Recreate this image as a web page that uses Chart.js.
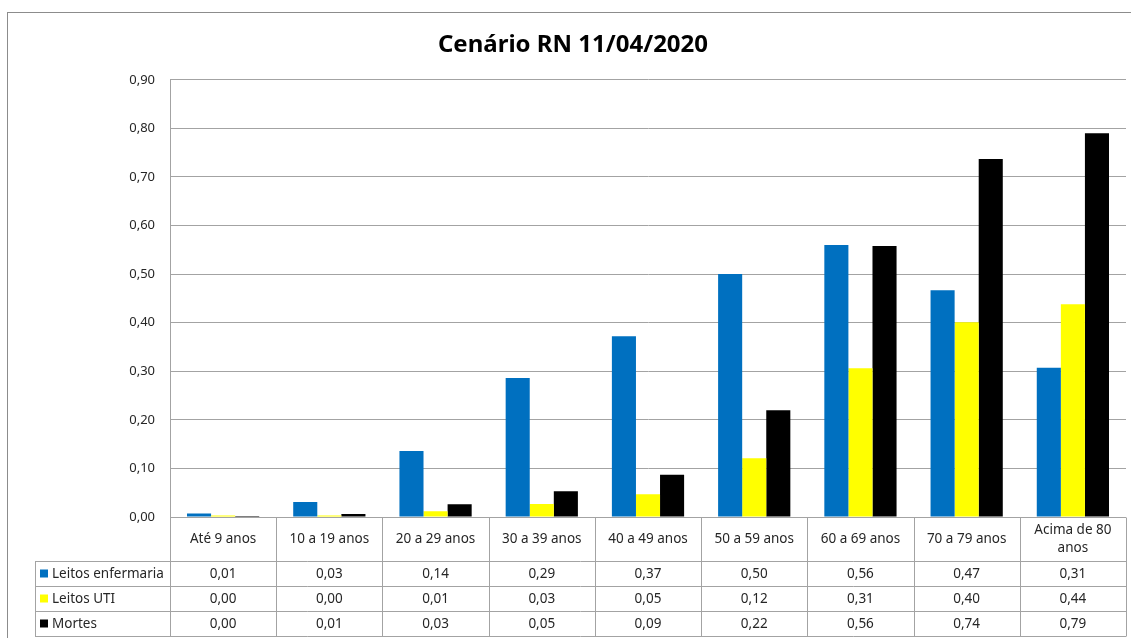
<!DOCTYPE html>
<html>
<head>
<meta charset="utf-8">
<script src="https://cdn.jsdelivr.net/npm/chart.js@4/dist/chart.umd.min.js"></script>
<style>
html,body{margin:0;padding:0;background:#fff;}
canvas{display:block;}
</style>
</head>
<body>
<canvas id="c" width="1131" height="638"></canvas>
<script>
const title = 'Cenário RN 11/04/2020';
const categories = [['Até 9 anos'], ['10 a 19 anos'], ['20 a 29 anos'], ['30 a 39 anos'], ['40 a 49 anos'], ['50 a 59 anos'], ['60 a 69 anos'], ['70 a 79 anos'], ['Acima de 80', 'anos']];
const seriesNames = ['Leitos enfermaria', 'Leitos UTI', 'Mortes'];
const leitosEnfermaria = [0.007, 0.031, 0.136, 0.286, 0.372, 0.500, 0.560, 0.467, 0.307];
const leitosUTI = [0.003, 0.003, 0.012, 0.027, 0.047, 0.121, 0.306, 0.401, 0.438];
const mortes = [0.002, 0.006, 0.026, 0.053, 0.087, 0.220, 0.558, 0.737, 0.790];
const yMin = 0, yMax = 0.9, yStep = 0.1;
const colors = ['#0070C0', '#FFFF00', '#000000'];

const fmt = v => v.toFixed(2).replace('.', ',');
const FONT = '"Noto Sans", sans-serif';
const LINE = '#a3a3a3';

const tablePlugin = {
  id: 'dataTable',
  beforeDraw(chart) {
    const ctx = chart.ctx;
    ctx.save();
    ctx.strokeStyle = '#8c8c8c';
    ctx.lineWidth = 1;
    ctx.strokeRect(7.5, 12.5, 1200, 700);
    ctx.restore();
  },
  afterDraw(chart) {
    const ctx = chart.ctx;
    const ca = chart.chartArea;
    const xs = chart.scales.x;
    const n = categories.length;
    const cw = (ca.right - ca.left) / n;
    const headerH = 44, rowH = 25, labelLeft = 35;
    const top = ca.bottom;
    const rowsTop = top + headerH;
    const bottom = rowsTop + rowH * seriesNames.length;
    const crisp = v => Math.round(v) + 0.5;
    ctx.save();
    ctx.strokeStyle = LINE;
    ctx.lineWidth = 1;
    ctx.beginPath();
    ctx.moveTo(ca.left, crisp(top)); ctx.lineTo(ca.right, crisp(top));
    for (let r = 0; r <= seriesNames.length; r++) {
      const y = crisp(rowsTop + r * rowH);
      ctx.moveTo(labelLeft, y); ctx.lineTo(ca.right, y);
    }
    for (let i = 0; i <= n; i++) {
      const x = crisp(ca.left + i * cw);
      ctx.moveTo(x, crisp(top)); ctx.lineTo(x, crisp(bottom));
    }
    ctx.moveTo(crisp(labelLeft), crisp(rowsTop)); ctx.lineTo(crisp(labelLeft), crisp(bottom));
    ctx.stroke();

    ctx.fillStyle = '#262626';
    ctx.font = '13.5px ' + FONT;
    ctx.textAlign = 'center';
    ctx.textBaseline = 'middle';
    categories.forEach((lines, i) => {
      const cx = xs.getPixelForValue(i);
      const cy = top + headerH / 2;
      const lh = 18;
      lines.forEach((t, k) => {
        ctx.fillText(t, cx, cy + (k - (lines.length - 1) / 2) * lh);
      });
    });
    chart.data.datasets.forEach((ds, r) => {
      const cy = rowsTop + r * rowH + rowH / 2 + 1;
      ctx.textAlign = 'center';
      ctx.fillStyle = '#262626';
      ds.data.forEach((v, i) => {
        ctx.fillText(fmt(v), xs.getPixelForValue(i), cy);
      });
      ctx.fillStyle = ds.backgroundColor;
      ctx.fillRect(labelLeft + 5, cy - 5, 8, 8);
      ctx.fillStyle = '#262626';
      ctx.textAlign = 'left';
      ctx.fillText(ds.label, labelLeft + 17, cy);
    });
    ctx.restore();
  }
};

new Chart(document.getElementById('c'), {
  type: 'bar',
  data: {
    labels: categories,
    datasets: [
      { label: seriesNames[0], data: leitosEnfermaria, backgroundColor: colors[0] },
      { label: seriesNames[1], data: leitosUTI, backgroundColor: colors[1] },
      { label: seriesNames[2], data: mortes, backgroundColor: colors[2] }
    ]
  },
  options: {
    responsive: false,
    devicePixelRatio: 1,
    animation: false,
    layout: { padding: { left: 20, right: 5, top: 0, bottom: 121 } },
    datasets: { bar: { categoryPercentage: 0.68, barPercentage: 1.0 } },
    plugins: {
      legend: { display: false },
      tooltip: { enabled: false },
      title: {
        display: true,
        text: title,
        color: '#000',
        font: { family: FONT, size: 24, weight: 'bold' },
        padding: { top: 31, bottom: 20 }
      }
    },
    scales: {
      x: { display: false },
      y: {
        min: yMin, max: yMax,
        afterFit: s => { s.width = 150; },
        ticks: {
          stepSize: yStep,
          padding: 15,
          color: '#262626',
          font: { family: FONT, size: 13 },
          callback: v => fmt(v)
        },
        grid: { color: LINE, drawTicks: false },
        border: { display: true, color: LINE }
      }
    }
  },
  plugins: [tablePlugin]
});
</script>
</body>
</html>
